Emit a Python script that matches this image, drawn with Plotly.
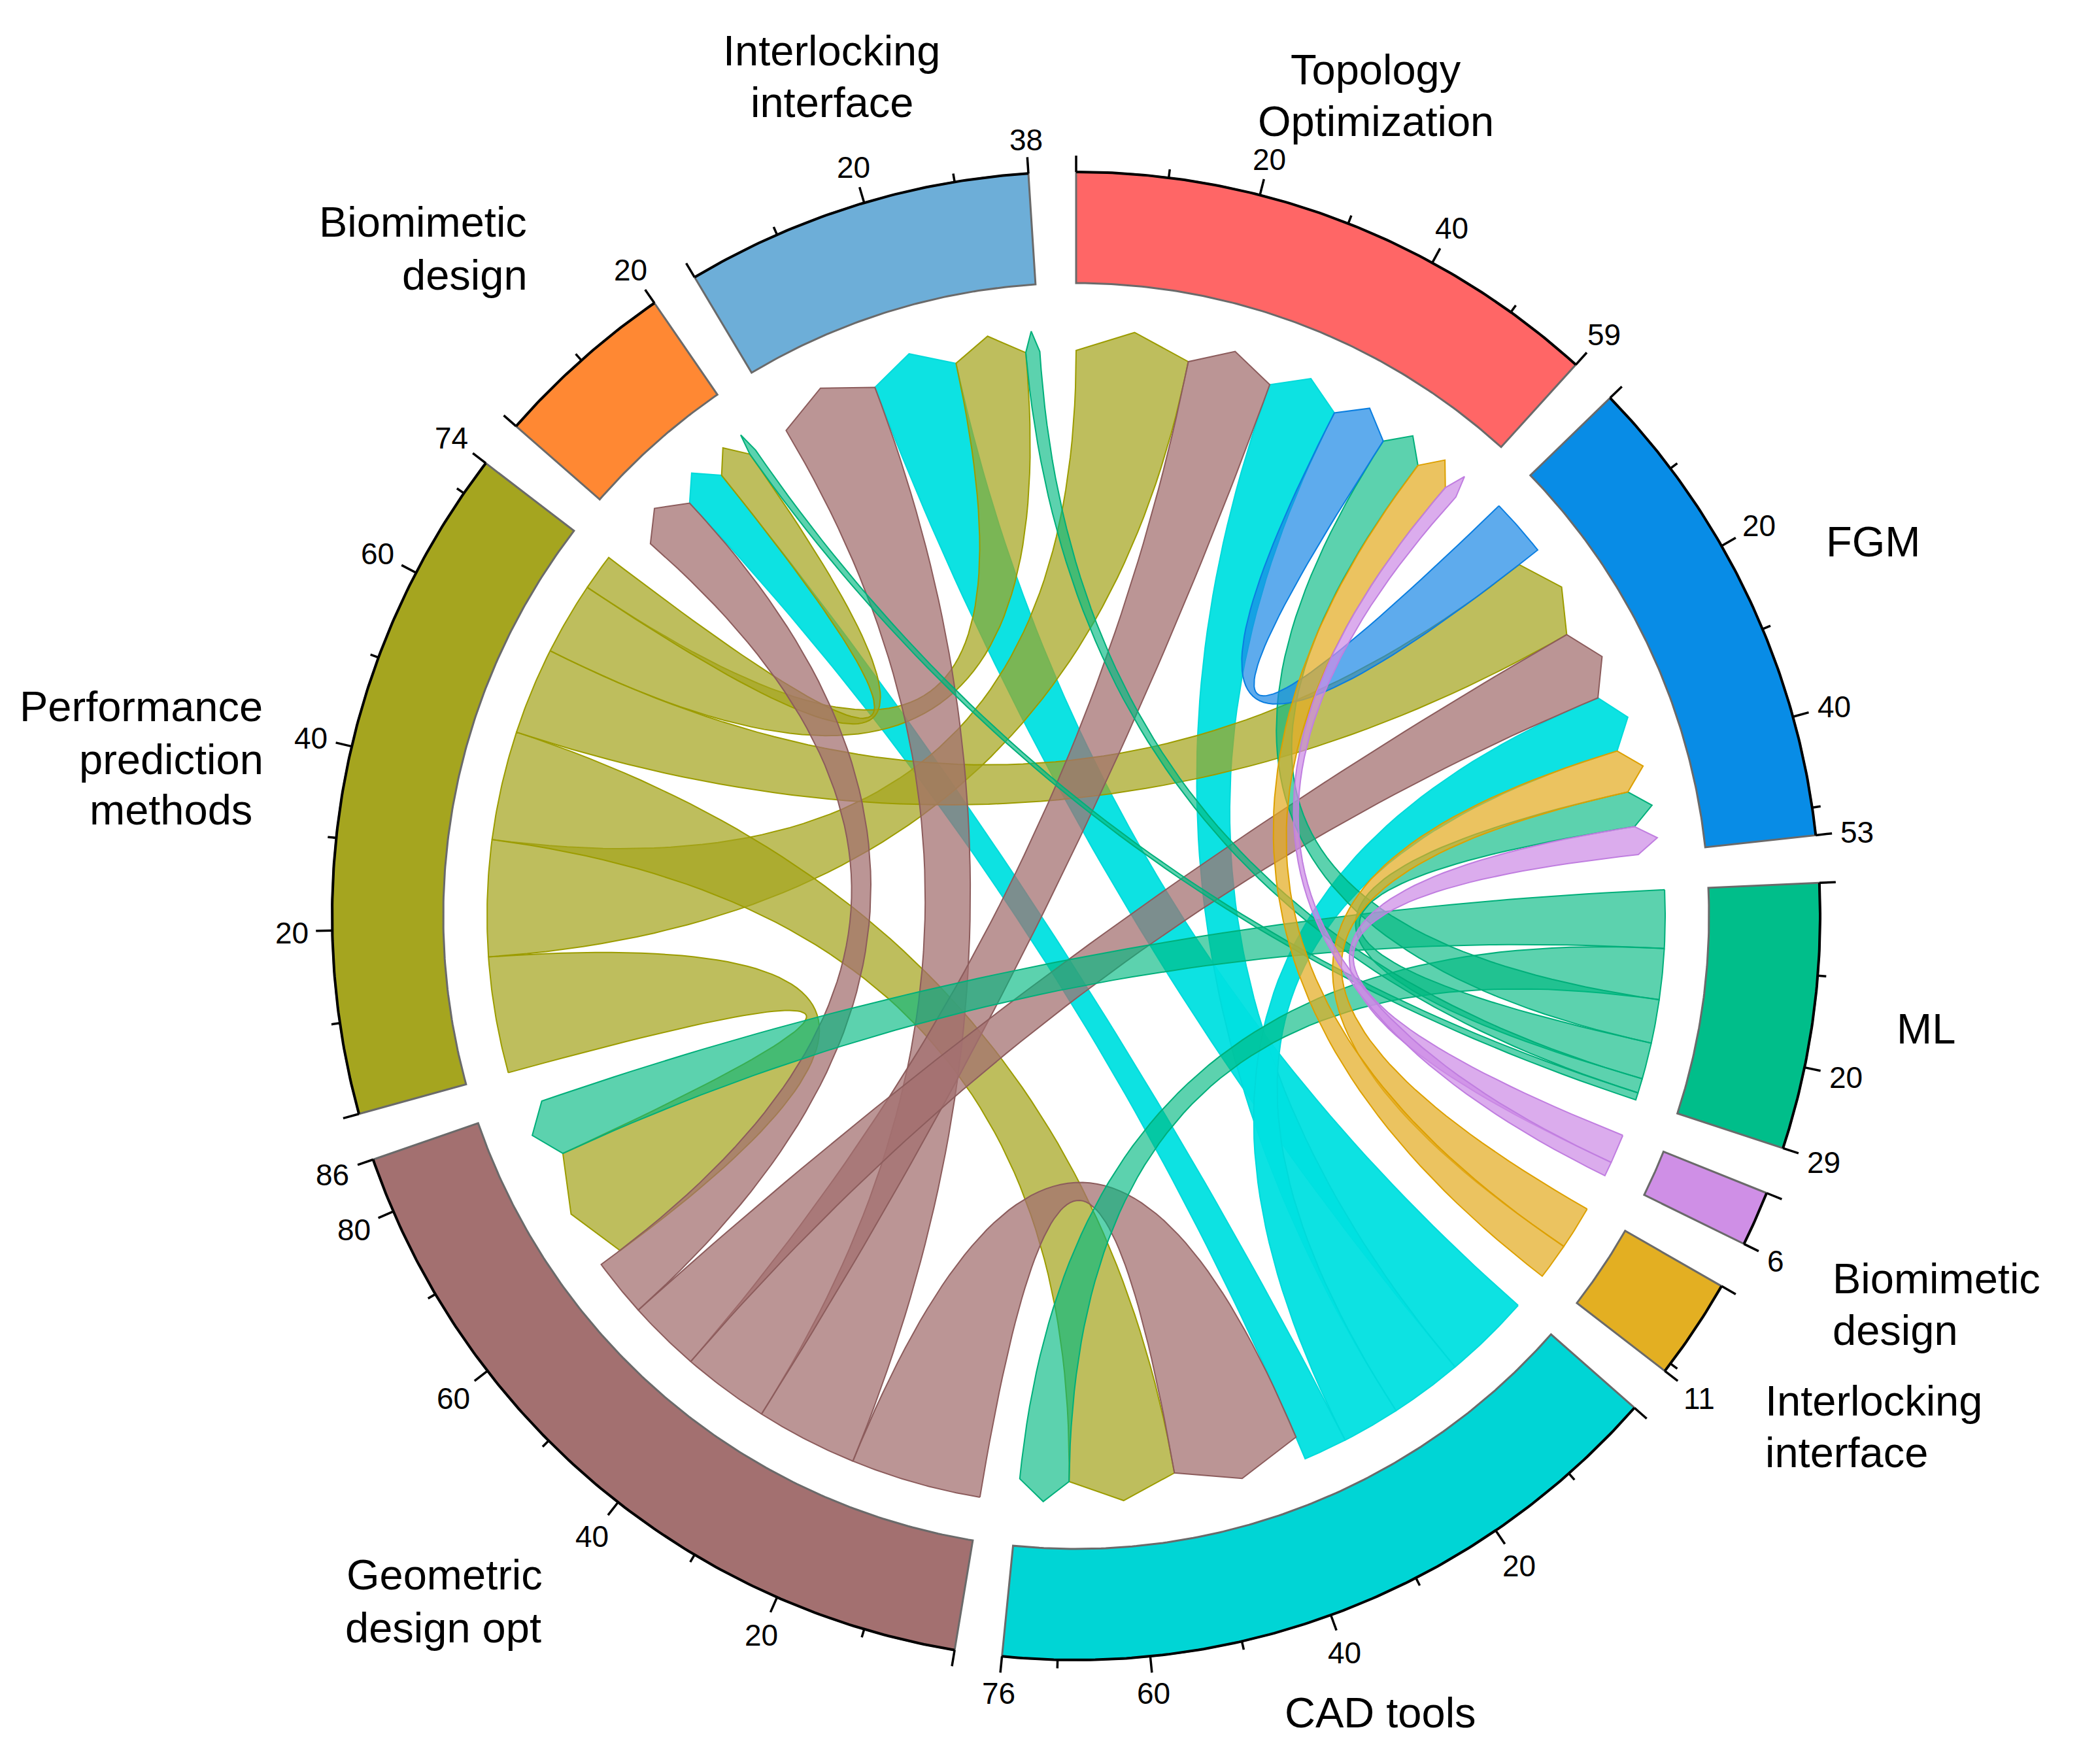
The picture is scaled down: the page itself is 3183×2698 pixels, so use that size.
import math
import plotly.graph_objects as go

# ---------------- data ----------------
node_keys = ["T", "F", "M", "BR", "IR", "C", "G", "P", "BL", "IL"]
node_names = ["Topology Optimization", "FGM", "ML", "Biomimetic design",
              "Interlocking interface", "CAD tools", "Geometric design opt",
              "Performance prediction methods", "Biomimetic design",
              "Interlocking interface"]
node_totals = [59, 53, 29, 6, 11, 76, 86, 74, 20, 38]

link_source = ["P", "P", "P", "P", "P", "P",
               "G", "G", "G", "G", "G",
               "C", "C", "C", "C",
               "F",
               "M", "M", "M", "M", "M", "M",
               "IR", "IR",
               "BR", "BR"]
link_target = ["G", "T", "C", "F", "IL", "BL",
               "C", "IL", "T", "F", "BL",
               "IL", "T", "F", "BL",
               "T",
               "G", "C", "T", "F", "IL", "BL",
               "F", "T",
               "F", "T"]
link_value = [16, 16, 15, 12, 10, 5,
              18, 14, 12, 10, 8,
              12, 10, 8, 6,
              8,
              8, 7, 6, 5, 2, 1,
              6, 5,
              4, 2]

# ---------------- styles ----------------
node_colors = {"T": "#FF6666", "F": "#088CE6", "M": "#00BE8A", "BR": "#CF8FE6",
               "IR": "#E3AF22", "C": "#00D5D5", "G": "#A37070", "P": "#A5A51F",
               "BL": "#FF8833", "IL": "#6DAED8"}
rib_fill = {"P": "rgba(165,165,31,0.72)", "G": "rgba(163,112,112,0.74)",
            "C": "rgba(0,224,224,0.95)", "F": "rgba(25,135,230,0.70)",
            "M": "rgba(0,185,128,0.64)", "IR": "rgba(227,172,34,0.72)",
            "BR": "rgba(205,140,230,0.72)"}
rib_line = {"P": "#9C9C00", "G": "#8C5C5C", "C": "#00DADA", "F": "#0A7EE0",
            "M": "#00AF7A", "IR": "#DDA000", "BR": "#C07EE0"}
draw_order = ["C", "P", "G", "M", "F", "IR", "BR"]

W, H = 3183, 2698
PAGE_MARGIN = 8  # default body margin of the html page
CX, CY = 1646, 1401
R_OUT, R_IN = 1138, 968
R_FLAT, R_BASE, R_TIP = 901, 865, 897
GAP = 3.68
FONT = "Liberation Sans, Arial, sans-serif"

total_units = sum(node_totals)
S = (360.0 - GAP * len(node_keys)) / total_units


def pt(theta, r):
    th = math.radians(theta)
    return CX + r * math.sin(th), CY - r * math.cos(th)


def arc(t0, t1, r, step=0.4):
    n = max(2, int(abs(t1 - t0) / step) + 2)
    return [pt(t0 + (t1 - t0) * i / (n - 1), r) for i in range(n)]


def qbez(p0, p2, n=60):
    out = []
    for i in range(n + 1):
        u = i / n
        x = (1 - u) ** 2 * p0[0] + 2 * u * (1 - u) * CX + u ** 2 * p2[0]
        y = (1 - u) ** 2 * p0[1] + 2 * u * (1 - u) * CY + u ** 2 * p2[1]
        out.append((x, y))
    return out


# node angular extents
node_start = {}
node_end = {}
a = 0.0
for k, tot in zip(node_keys, node_totals):
    node_start[k] = a
    node_end[k] = a + tot * S
    a = node_end[k] + GAP

# sub-segment allocation: outgoing (desc) then incoming (desc)
link_idx = list(range(len(link_value)))
seg_src = {}
seg_tgt = {}
for k in node_keys:
    cur = node_start[k]
    outs = sorted([i for i in link_idx if link_source[i] == k], key=lambda i: -link_value[i])
    ins = sorted([i for i in link_idx if link_target[i] == k], key=lambda i: -link_value[i])
    for i in outs:
        seg_src[i] = (cur, cur + link_value[i] * S)
        cur += link_value[i] * S
    for i in ins:
        seg_tgt[i] = (cur, cur + link_value[i] * S)
        cur += link_value[i] * S

fig = go.Figure()

# ---------------- ribbons ----------------
for src in draw_order:
    for i in link_idx:
        if link_source[i] != src:
            continue
        a1, a2 = seg_src[i]
        b1, b2 = seg_tgt[i]
        pts = arc(a1, a2, R_FLAT)
        pts += qbez(pt(a2, R_FLAT), pt(b1, R_BASE))[1:]
        pts.append(pt((b1 + b2) / 2, R_TIP))
        pts.append(pt(b2, R_BASE))
        pts += qbez(pt(b2, R_BASE), pt(a1, R_FLAT))[1:]
        fig.add_trace(go.Scatter(
            x=[p[0] for p in pts], y=[p[1] for p in pts], mode="lines",
            fill="toself", fillcolor=rib_fill[src],
            line=dict(color=rib_line[src], width=2),
            hoverinfo="skip", showlegend=False))

# ---------------- node arcs ----------------
for k in node_keys:
    s, e = node_start[k], node_end[k]
    pts = arc(s, e, R_OUT) + arc(e, s, R_IN)
    pts.append(pts[0])
    fig.add_trace(go.Scatter(
        x=[p[0] for p in pts], y=[p[1] for p in pts], mode="lines",
        fill="toself", fillcolor=node_colors[k],
        line=dict(color="#6A6A6A", width=3),
        hoverinfo="skip", showlegend=False))

# ---------------- axes (outer arcs + ticks) ----------------
ax_x, ax_y = [], []
tk_x, tk_y = [], []
tick_labels = []
for k, tot in zip(node_keys, node_totals):
    s = node_start[k]
    for p in arc(s, node_end[k], R_OUT):
        ax_x.append(p[0]); ax_y.append(p[1])
    ax_x.append(None); ax_y.append(None)
    vals = list(range(0, tot + 1, 10))
    if tot not in vals:
        vals.append(tot)
    for v in vals:
        th = s + v * S
        major = (v % 20 == 0) or (v == tot)
        ln = 25 if major else 13
        p0 = pt(th, R_OUT)
        p1 = pt(th, R_OUT + ln)
        tk_x += [p0[0], p1[0], None]
        tk_y += [p0[1], p1[1], None]
        if v > 0 and ((v % 20 == 0) or v == tot):
            tick_labels.append((th, str(v)))

fig.add_trace(go.Scatter(x=ax_x, y=ax_y, mode="lines",
                         line=dict(color="black", width=4),
                         hoverinfo="skip", showlegend=False))
fig.add_trace(go.Scatter(x=tk_x, y=tk_y, mode="lines",
                         line=dict(color="black", width=3.5),
                         hoverinfo="skip", showlegend=False))

annotations = []
TICK_FS = 46
for th, txt in tick_labels:
    hw = 0.556 * TICK_FS * len(txt) / 2
    hh = 16
    r = R_OUT + 36 + abs(math.sin(math.radians(th))) * hw + abs(math.cos(math.radians(th))) * hh
    x, y = pt(th, r)
    annotations.append(dict(x=x, y=y + 2, text=txt, showarrow=False,
                            xanchor="center", yanchor="middle",
                            font=dict(family=FONT, size=TICK_FS, color="black")))

# ---------------- node name labels (line by line) ----------------
label_lines = [
    ("Interlocking", 1272, 77), ("interface", 1272, 156),
    ("Topology", 2104, 106), ("Optimization", 2104, 185),
    ("Biomimetic", 647, 339), ("design", 711, 420),
    ("FGM", 2865, 828),
    ("Performance", 216, 1080), ("prediction", 262, 1161), ("methods", 261, 1238),
    ("ML", 2946, 1573),
    ("Biomimetic", 2962, 1955), ("design", 2899, 2034),
    ("Interlocking", 2866, 2142), ("interface", 2824, 2221),
    ("Geometric", 680, 2408), ("design opt", 678, 2489),
    ("CAD tools", 2111, 2619),
]
for txt, x, y in label_lines:
    annotations.append(dict(x=x, y=y, text=txt, showarrow=False,
                            xanchor="center", yanchor="middle",
                            font=dict(family=FONT, size=65, color="black")))

# figure sized to fit inside the page's default body margin; the axis ranges
# are shifted by that margin so that data units equal page pixels
fig.update_layout(
    width=W - 2 * PAGE_MARGIN, height=H - 2 * PAGE_MARGIN,
    margin=dict(l=0, r=0, t=0, b=0, pad=0),
    paper_bgcolor="white", plot_bgcolor="white",
    xaxis=dict(range=[PAGE_MARGIN, W - PAGE_MARGIN], visible=False, fixedrange=True),
    yaxis=dict(range=[H - PAGE_MARGIN, PAGE_MARGIN], visible=False, fixedrange=True),
    annotations=annotations, showlegend=False,
)

fig.write_html("out.html")
